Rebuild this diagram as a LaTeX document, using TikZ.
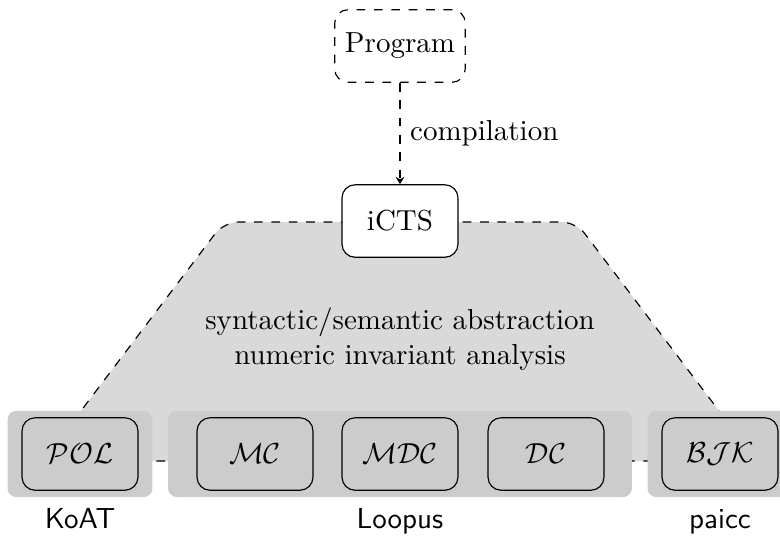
\documentclass[tikz,border=0pt]{standalone}
\usepackage{amsmath,amssymb}
\usepackage{xcolor}
\usepackage{tikz}
\usetikzlibrary{arrows.meta, positioning}

\begin{document}
\begin{tikzpicture}[x=0.345pt, y=-0.345pt,
  box/.style={draw, rounded corners=4.5pt, minimum width=40pt, minimum height=25pt},
  group/.style={fill=gray!40, rounded corners=3pt, minimum height=29.7pt},
  tool/.style={font=\sffamily, anchor=base}]
\useasboundingbox (0,0) rectangle (780,535);
\draw[dashed, fill=gray!30, rounded corners=5pt] (43,461) -- (224,222) -- (576,222) -- (757,461) -- cycle;
\node[group, minimum width=50pt] (gkoat) at (80,454) {};
\node[group, minimum width=160pt] (gloopus) at (400,454) {};
\node[group, minimum width=50pt] (gpaicc) at (720,454) {};
\node[box, fill=gray!40] (pol) at (80,454) {$\mathcal{POL}$};
\node[box, fill=gray!40] (mc) at (255,454) {$\mathcal{MC}$};
\node[box, fill=gray!40] (mdc) at (400,454) {$\mathcal{MDC}$};
\node[box, fill=gray!40] (dc) at (546,454) {$\mathcal{DC}$};
\node[box, fill=gray!40] (bjk) at (720,454) {$\mathcal{BJK}$};
\node[box, fill=white] (icts) at (400,221) {iCTS};
\node[box, dashed, minimum width=45pt] (prog) at (400,46) {Program};
\draw[dashed, -{Stealth[length=2.5pt, width=3pt]}] (prog) -- node[right] {compilation} (icts);
\node[align=center] (steps) at (400,339) {syntactic/semantic abstraction\\numeric invariant analysis};
\node[tool] (koat) at (80,528) {KoAT};
\node[tool] (loopus) at (400,528) {Loopus};
\node[tool] (paicc) at (720,528) {paicc};
\end{tikzpicture}
\end{document}
